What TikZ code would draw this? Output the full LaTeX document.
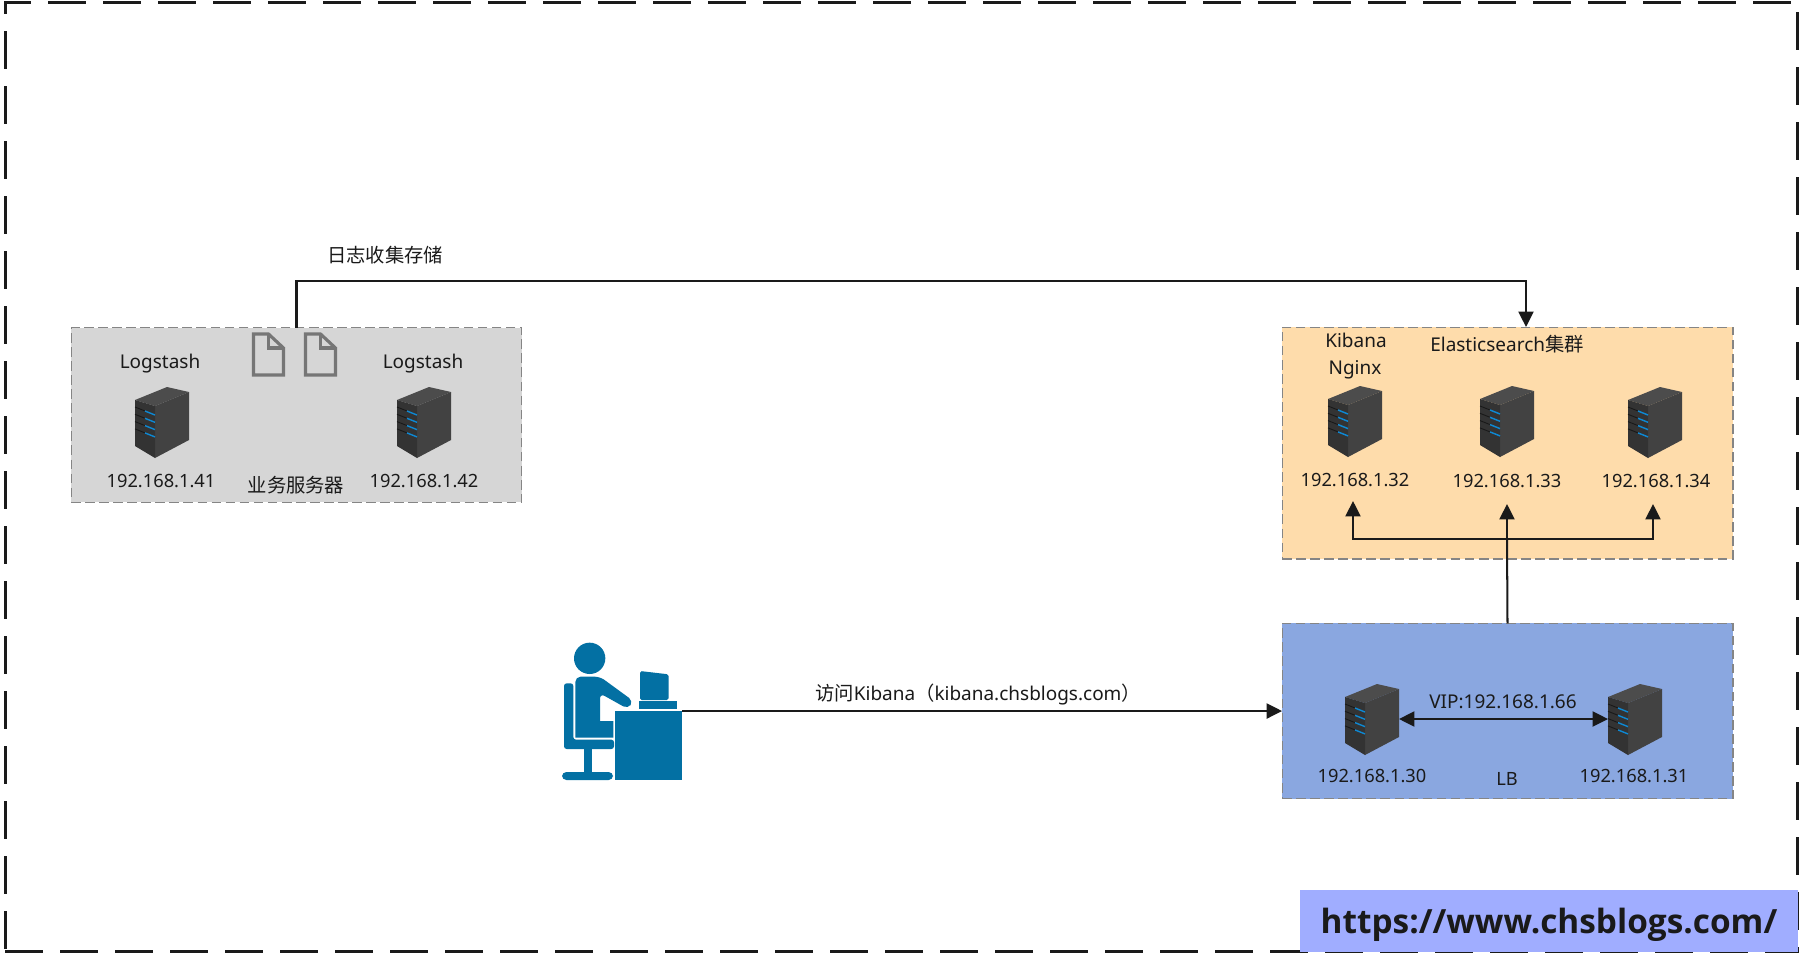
\documentclass[tikz,border=0pt]{standalone}
\usepackage{fontspec}
\setmainfont{Noto Sans}
\newfontfamily\cjk{Noto Sans CJK SC}
\newfontfamily\urlfont{Open Sans}
\usetikzlibrary{arrows.meta, positioning}
\definecolor{ink_dark}{HTML}{1A1A1A}
\definecolor{zone_gray}{HTML}{D6D6D6}
\definecolor{zone_orange}{HTML}{FEDCAB}
\definecolor{zone_blue}{HTML}{8AA7E0}
\definecolor{url_blue}{HTML}{A0ADFF}
\definecolor{user_blue}{HTML}{0370A3}
\definecolor{file_gray}{HTML}{767676}
\definecolor{edge_gray}{HTML}{858585}
\newcommand{\zh}[1]{{\fontsize{11pt}{12pt}\selectfont\cjk #1}}
\tikzset{
  label_txt/.style={font=\fontsize{10.4pt}{12pt}\selectfont, text=ink_dark, inner sep=0pt},
  name_txt/.style={font=\fontsize{10.8pt}{12pt}\selectfont, text=ink_dark, inner sep=0pt},
  cjk_txt/.style={font=\fontsize{11pt}{12pt}\selectfont\cjk, text=ink_dark, inner sep=0pt},
  zone/.style={draw=edge_gray, line width=0.6pt, dash pattern=on 5.5pt off 2.5pt, inner sep=0pt, outer sep=0pt, minimum width=9.02cm},
  link/.style={draw=ink_dark, line width=1.15pt, -{Triangle[length=8.8pt,width=8.6pt]}},
  link_plain/.style={draw=ink_dark, line width=1.15pt},
  user_part/.style={fill=user_blue, draw=none},
  server/.pic={
    \fill[black!70] (-27,-22) -- (5,-35) -- (27,-30) -- (-7,-16) -- cycle;
    \fill[black!74] (-7,-16) -- (27,-30) -- (27,18) -- (-7,36) -- cycle;
    \fill[black!80] (-27,-22) -- (-7,-16) -- (-7,36) -- (-27,24) -- cycle;
    \foreach\k in {0,1,2,3} {
      \draw[black!90, line width=0.5pt] (-27,-15+7.3*\k) -- (-17,-11+7.3*\k);
      \draw[cyan!70!blue, line width=0.8pt] (-17,-11+7.3*\k) -- (-7,-7+7.3*\k);
    }
    \node (-box) [minimum width=1.08cm, minimum height=1.42cm, inner sep=0pt, outer sep=0pt] at (0,0) {};
  },
  textfile/.pic={
    \draw[file_gray, line width=1.8pt, line join=miter] (0,0) -- (15,0) -- (30,14) -- (30,41) -- (0,41) -- cycle;
    \draw[file_gray, line width=1.8pt] (15,0) -- (15,14) -- (30,14);
  }
}

\begin{document}
\begin{tikzpicture}[x=0.02cm,y=-0.02cm]
    \useasboundingbox (0,0) rectangle (1805,958);
    \fill[white] (0,0) rectangle (1805,958);

    \node (frame) [draw=ink_dark, line width=1.7pt, dash pattern=on 21.6pt off 9.7pt,
        minimum width=35.86cm, minimum height=19cm, inner sep=0pt] at (901.5,477) {};

    % zones
    \node (grayzone) [zone, fill=zone_gray, minimum height=3.5cm] at (296.5,415) {};
    \node (orangezone) [zone, fill=zone_orange, minimum height=4.64cm] at (1507.5,443) {};
    \node (lbzone) [zone, fill=zone_blue, minimum height=3.51cm] at (1507.5,711) {};

    % business servers
    \pic (s41) at (162,422) {server};
    \pic (s42) at (424,422) {server};
    \pic (f1) at (253.5,334) {textfile};
    \pic (f2) at (305.5,334) {textfile};
    \node (ls1) [name_txt] at (160,364) {Logstash};
    \node (ls2) [name_txt] at (423,364) {Logstash};
    \node (ip41) [label_txt] at (161,481) {192.168.1.41};
    \node (ip42) [label_txt] at (424,481) {192.168.1.42};
    \node (bizname) [cjk_txt] at (296,485) {业务服务器};
    \node (logname) [cjk_txt] at (385,255) {日志收集存储};

    % elasticsearch
    \pic (s32) at (1355,421) {server};
    \pic (s33) at (1507,421) {server};
    \pic (s34) at (1655,422) {server};
    \node (kibana) [name_txt] at (1356,340) {Kibana};
    \node (nginx) [name_txt] at (1355,370) {Nginx};
    \node (esname) [name_txt] at (1507,344) {Elasticsearch\zh{集群}};
    \node (ip32) [label_txt] at (1355,480) {192.168.1.32};
    \node (ip33) [label_txt] at (1507,481) {192.168.1.33};
    \node (ip34) [label_txt] at (1656,481) {192.168.1.34};

    % load balancers
    \pic (s30) at (1372,719) {server};
    \pic (s31) at (1635,719) {server};
    \node (ip30) [label_txt] at (1372,776) {192.168.1.30};
    \node (ip31) [label_txt] at (1634,776) {192.168.1.31};
    \node (lbname) [label_txt] at (1507,779) {LB};
    \node (vip) [name_txt] at (1503,702) {VIP:192.168.1.66};

    % user at desk
    \begin{scope}[shift={(540,620)},scale=1/3]
        \fill[user_part] (149,115) circle (47);
        \path[user_part, rounded corners=3pt] (106,353) -- (106,170) -- (180,170)
            -- (280,243) -- (264,267) -- (180,220) [sharp corners] -- (180,303) -- (220,303) -- (220,353) -- cycle;
        \path[user_part, rounded corners=1.5pt] (72,190) -- (100,190) -- (100,359) -- (222,359)
            -- (222,387) -- (72,387) -- cycle;
        \path[user_part] (131,387) rectangle (156,458);
        \path[user_part, rounded corners=2.5pt] (66,456) rectangle (219,480);
        \path[user_part, rounded corners=1pt] (300,153) -- (386,163) -- (386,240) -- (300,240) -- cycle;
        \path[user_part] (297,243) rectangle (411,267);
    \end{scope}
    \node (desk) [user_part, minimum width=1.333cm, minimum height=1.38cm, inner sep=0pt, outer sep=0pt] at (648.7,745.5) {};
    \node (visit) [name_txt] at (978,694) {\zh{访问}Kibana\zh{（}kibana.chsblogs.com\zh{）}};

    % url
    \node (urlbox) [fill=url_blue, minimum width=9.96cm, minimum height=1.24cm, inner sep=0pt] at (1549,921) {};
    \node (url) [inner sep=0pt, font=\fontsize{19pt}{22pt}\selectfont\urlfont\bfseries, text=ink_dark] at (1549,925) {https://www.chsblogs.com/};

    % connectors
    \coordinate (esin) at (1526,327);
    \coordinate (fork) at (1507,539);
    \draw[link] (grayzone.north) -- ++(0,-47) -| (esin);
    \draw[link_plain] (lbzone.north) -- (fork);
    \draw[link] (fork) -- (ip33.south |- 0,504);
    \draw[link] (fork) -| (1353,501);
    \draw[link] (fork) -| (1653,504);
    \draw[link] (desk.north east) -- (desk.north east -| lbzone.west);
    \draw[link, {Triangle[length=8.8pt,width=8.6pt]}-{Triangle[length=8.8pt,width=8.6pt]}] (s30-box) -- (s31-box);
\end{tikzpicture}
\end{document}
